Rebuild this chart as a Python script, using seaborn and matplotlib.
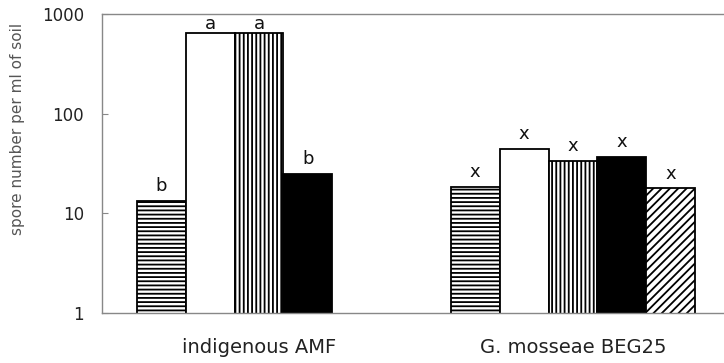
import matplotlib
matplotlib.use("Agg")
import matplotlib.pyplot as plt
import numpy as np
import pandas as pd
import seaborn as sns

# spore counts per ml of soil (log scale)
groups = ['indigenous AMF', 'G. mosseae BEG25']
treatments = ['T1', 'T2', 'T3', 'T4', 'T5']
spores_indigenous = [13.4, 643, 640, 24.8, np.nan]
spores_mosseae = [18.4, 44.2, 33.5, 37.0, 17.9]
letters_indigenous = ['b', 'a', 'a', 'b', '']
letters_mosseae = ['x', 'x', 'x', 'x', 'x']
yticks = [1, 10, 100, 1000]
ytick_labels = ['1', '10', '100', '1000']

fills = ['white', 'white', 'white', 'black', 'white']
hatches = ['----', '', '||||', '', '////']

sns.set_style('white')
plt.rcParams['font.family'] = ['DejaVu Sans']
plt.rcParams['hatch.linewidth'] = 1.3

rows = []
for g, vals in zip(groups, [spores_indigenous, spores_mosseae]):
    for t, v in zip(treatments, vals):
        rows.append([g, t, v])
df = pd.DataFrame(rows, columns=['group', 'treatment', 'spores']).dropna()

fig = plt.figure(figsize=(7.24, 3.63), dpi=100)
ax = fig.add_axes([102 / 724, 50 / 363, 628 / 724, 299 / 363])
ax.set_yscale('log')

sns.barplot(data=df, x='group', y='spores', hue='treatment', order=groups,
            hue_order=treatments, palette=fills, width=0.78, gap=0,
            edgecolor='black', linewidth=1.3, legend=False, ax=ax)

letters = {groups[0]: letters_indigenous, groups[1]: letters_mosseae}
for i, cont in enumerate(ax.containers):
    for bar in cont.patches:
        bar.set_hatch(hatches[i])
        bar.set_facecolor(fills[i])
        bar.set_edgecolor('black')
        xc = bar.get_x() + bar.get_width() / 2
        top = bar.get_y() + bar.get_height()
        lab = letters[groups[int(round(xc))]][i]
        off = 0 if lab == 'a' else 4
        ax.annotate(lab, (xc, top), xytext=(0, off), textcoords='offset points',
                    ha='center', va='bottom', fontsize=13, color='#111111')

ax.set_xlim(-0.5, 1.5)
ax.set_ylim(1, 1000)
ax.set_yticks(yticks)
ax.set_yticklabels(ytick_labels)
ax.yaxis.set_minor_locator(matplotlib.ticker.NullLocator())
ax.tick_params(axis='y', direction='in', length=4, pad=13, labelsize=12,
               color='#888888', labelcolor='#222222', left=True)
ax.tick_params(axis='x', length=0, pad=18, labelsize=14, labelcolor='#222222')

for side in ['top', 'left', 'bottom']:
    ax.spines[side].set_visible(True)
    ax.spines[side].set_color('#888888')
    ax.spines[side].set_linewidth(1.0)
ax.spines['right'].set_visible(False)

ax.set_xlabel('')
ax.set_ylabel('spore number per ml of soil', fontsize=11, color='#555555')
ax.yaxis.set_label_coords(-0.123, 0.615)

fig.savefig('out.png', dpi=100)
